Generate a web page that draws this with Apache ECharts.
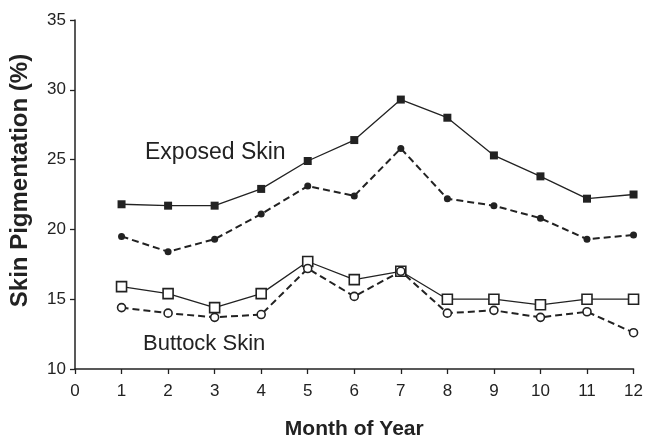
<!DOCTYPE html>
<html>
<head>
<meta charset="utf-8">
<script src="https://cdn.jsdelivr.net/npm/echarts@6/dist/echarts.min.js"></script>
<style>
  html, body { margin: 0; padding: 0; background: #fff; }
  #chart { width: 646px; height: 445px; }
</style>
</head>
<body>
<div id="chart"></div>
<script>
var months = [1, 2, 3, 4, 5, 6, 7, 8, 9, 10, 11, 12];

// exposed skin, two measures
var exposedA = [21.8, 21.7, 21.7, 22.9, 24.9, 26.4, 29.3, 28.0, 25.3, 23.8, 22.2, 22.5];
var exposedB = [19.5, 18.4, 19.3, 21.1, 23.1, 22.4, 25.8, 22.2, 21.7, 20.8, 19.3, 19.6];
// buttock skin, two measures
var buttockA = [15.9, 15.4, 14.4, 15.4, 17.7, 16.4, 17.0, 15.0, 15.0, 14.6, 15.0, 15.0];
var buttockB = [14.4, 14.0, 13.7, 13.9, 17.2, 15.2, 17.0, 14.0, 14.2, 13.7, 14.1, 12.6];

var ink = '#222';
var font = 'Liberation Sans, Arial, sans-serif';

function pairs(vals) {
    return months.map(function (m, i) { return [m, vals[i]]; });
}

function makeSeries(vals, symbol, size, filled, dashed) {
    return {
        type: 'line',
        data: pairs(vals),
        symbol: symbol,
        symbolSize: size,
        showAllSymbol: true,
        lineStyle: { color: ink, width: dashed ? 2 : 1.3, type: dashed ? [7, 4] : 'solid' },
        itemStyle: { color: filled ? ink : '#fff', borderColor: ink, borderWidth: filled ? 0 : 1.6 },
        emphasis: { disabled: true },
        z: filled ? 3 : 4
    };
}

var chart = echarts.init(document.getElementById('chart'));
chart.setOption({
    animation: false,
    backgroundColor: '#fff',
    grid: { left: 75, right: 12, top: 20, bottom: 71 },
    xAxis: {
        type: 'value',
        min: 0,
        max: 12,
        interval: 1,
        name: 'Month of Year',
        nameLocation: 'middle',
        nameGap: 50,
        nameTextStyle: { fontFamily: font, fontSize: 21, fontWeight: 'bold', color: ink },
        axisLine: { show: true, onZero: false, lineStyle: { color: ink, width: 1.5 } },
        axisTick: { show: true, length: 5, lineStyle: { color: ink, width: 1.3 } },
        axisLabel: { fontFamily: font, fontSize: 17, color: ink, margin: 14 },
        splitLine: { show: false }
    },
    yAxis: {
        type: 'value',
        min: 10,
        max: 35,
        interval: 5,
        name: 'Skin Pigmentation (%)',
        nameLocation: 'middle',
        nameGap: 43,
        nameTextStyle: { fontFamily: font, fontSize: 24, fontWeight: 'bold', color: ink, padding: [0, 0, 0, 28] },
        axisLine: { show: true, lineStyle: { color: ink, width: 1.5 } },
        axisTick: { show: true, length: 5, lineStyle: { color: ink, width: 1.3 } },
        axisLabel: { fontFamily: font, fontSize: 17, color: ink, margin: 9 },
        splitLine: { show: false }
    },
    graphic: [
        { type: 'text', left: 145, top: 141, style: { text: 'Exposed Skin', fontFamily: font, fontSize: 23, fill: ink } },
        { type: 'text', left: 143, top: 333, style: { text: 'Buttock Skin', fontFamily: font, fontSize: 22, fill: ink } }
    ],
    series: [
        makeSeries(exposedA, 'rect', 8, true, false),
        makeSeries(exposedB, 'circle', 7, true, true),
        makeSeries(buttockA, 'rect', 10, false, false),
        makeSeries(buttockB, 'circle', 8, false, true)
    ]
});
</script>
</body>
</html>
